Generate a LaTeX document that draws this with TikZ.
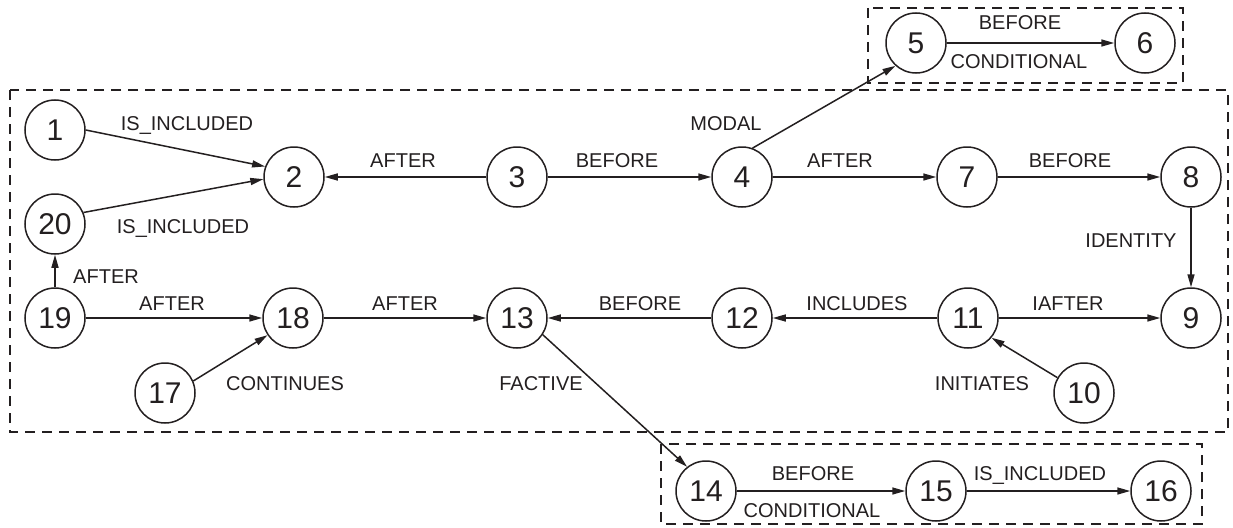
\documentclass[tikz,border=0pt]{standalone}
\usepackage{fontspec}
\setmainfont{Liberation Sans}
\usetikzlibrary{arrows.meta}
\definecolor{ink}{HTML}{231F20}
\begin{document}
\begin{tikzpicture}[x=1pt,y=-1pt,
  state/.style={circle,draw=ink,line width=1.5pt,minimum size=60pt,inner sep=0pt,font=\fontsize{30}{30}\selectfont,text=ink},
  lbl/.style={anchor=base,inner sep=0pt,font=\fontsize{20}{20}\selectfont,text=ink},
  conn/.style={draw=ink,line width=1.5pt,-{Triangle[length=13pt,width=7pt]}},
  grp/.style={draw=ink,line width=1.4pt,dash pattern=on 10pt off 7pt}]
\useasboundingbox (0,0) rectangle (1233,527);
% group boxes
\draw[grp] (10,90) rectangle (1228,432);
\draw[grp] (868,8) rectangle (1183,83);
\draw[grp] (661,444) rectangle (1202,524);
% nodes
\node[state] (n1) at (55,130) {1};
\node[state] (n2) at (294,177) {2};
\node[state] (n3) at (517,177) {3};
\node[state] (n4) at (742,177) {4};
\node[state] (n5) at (916,43) {5};
\node[state] (n6) at (1145,43) {6};
\node[state] (n7) at (967,177) {7};
\node[state] (n8) at (1191,177) {8};
\node[state] (n9) at (1191,318) {9};
\node[state] (n10) at (1084,393) {10};
\node[state] (n11) at (968,318) {11};
\node[state] (n12) at (742,318) {12};
\node[state] (n13) at (517,318) {13};
\node[state] (n14) at (706,491) {14};
\node[state] (n15) at (936,491) {15};
\node[state] (n16) at (1161,491) {16};
\node[state] (n17) at (165,393) {17};
\node[state] (n18) at (293,318) {18};
\node[state] (n19) at (55,318) {19};
\node[state] (n20) at (55,224) {20};
% connectors
\draw[conn] (n1.east) -- (n2.160);
\draw[conn] (n20.22) -- (n2.184);
\draw[conn] (n3) -- (n2);
\draw[conn] (n3) -- (n4);
\draw[conn] (n4.70) -- (n5.228);
\draw[conn] (n5) -- (n6);
\draw[conn] (n4) -- (n7);
\draw[conn] (n7) -- (n8);
\draw[conn] (n8) -- (n9);
\draw[conn] (n11) -- (n9);
\draw[conn] (n10.150) -- (n11.320);
\draw[conn] (n11) -- (n12);
\draw[conn] (n12) -- (n13);
\draw[conn] (n18) -- (n13);
\draw[conn] (n19) -- (n18);
\draw[conn] (n19) -- (n20);
\draw[conn] (n17.23) -- (n18.214);
\draw[conn] (n13.327) -- (n14.128);
\draw[conn] (n14) -- (n15);
\draw[conn] (n15) -- (n16);
% labels
\node[lbl] (l1) at (187,130) {IS\_INCLUDED};
\node[lbl] (l2) at (183,233) {IS\_INCLUDED};
\node[lbl] (l3) at (403,167) {AFTER};
\node[lbl] (l4) at (617,167) {BEFORE};
\node[lbl] (l5) at (840,167) {AFTER};
\node[lbl] (l6) at (726,130) {MODAL};
\node[lbl] (l7) at (1070,167) {BEFORE};
\node[lbl] (l8) at (1131,247) {IDENTITY};
\node[lbl] (l9) at (1068,310) {IAFTER};
\node[lbl] (l10) at (857,310) {INCLUDES};
\node[lbl] (l11) at (640,310) {BEFORE};
\node[lbl] (l12) at (405,310) {AFTER};
\node[lbl] (l13) at (172,310) {AFTER};
\node[lbl] (l14) at (106,283) {AFTER};
\node[lbl] (l15) at (285,390) {CONTINUES};
\node[lbl] (l16) at (541,390) {FACTIVE};
\node[lbl] (l17) at (982,390) {INITIATES};
\node[lbl] (l18) at (1020,30) {BEFORE};
\node[lbl] (l19) at (1019,69) {CONDITIONAL};
\node[lbl] (l20) at (813,480) {BEFORE};
\node[lbl] (l21) at (812,517) {CONDITIONAL};
\node[lbl] (l22) at (1040,480) {IS\_INCLUDED};
\end{tikzpicture}
\end{document}
